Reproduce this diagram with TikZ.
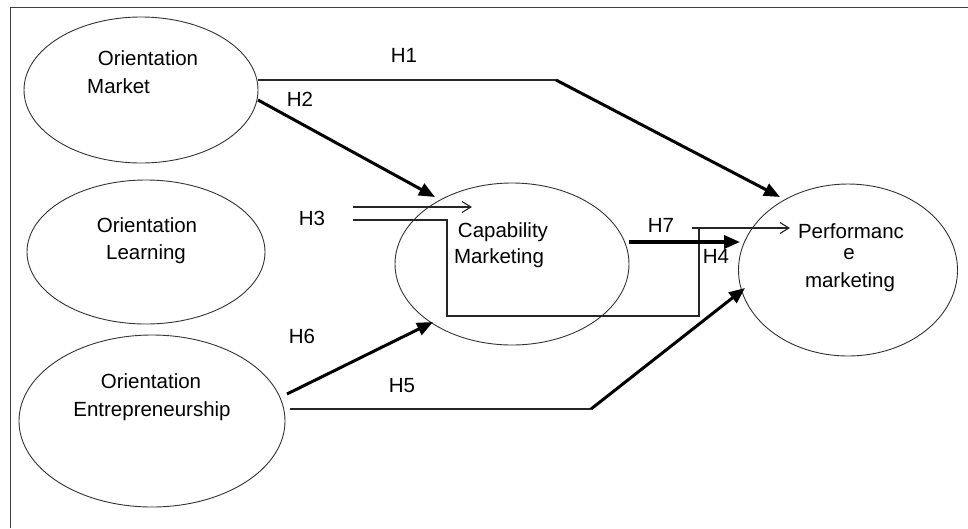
\documentclass[tikz,border=0pt]{standalone}
\usepackage{fontspec}
\setmainfont{Liberation Sans}
\usetikzlibrary{shapes.geometric,arrows.meta}
\begin{document}
\begin{tikzpicture}[x=1pt,y=-1pt,
  construct/.style={draw=black!80, line width=0.9pt, ellipse, inner sep=0pt},
  lbl/.style={anchor=base, inner sep=0pt, font=\fontsize{20.5}{24}\selectfont},
  thinline/.style={draw=black!85, line width=1.1pt},
  thickline/.style={draw=black, line width=3pt},
  bigtip/.style={-{Triangle[length=16pt,width=13pt]}},
  opentip/.style={-{Straight Barb[length=9pt,width=11pt,line width=1.1pt]}}]
\useasboundingbox (0,0) rectangle (968,528);
% frame
\draw[draw=black!75, line width=1pt] (10,528) -- (10,7) -- (968,7);
% constructs
\node[construct, minimum width=234pt, minimum height=146pt] (om) at (141,90) {};
\node[construct, minimum width=238pt, minimum height=144pt] (ol) at (146,252) {};
\node[construct, minimum width=266pt, minimum height=172pt] (oe) at (152,421) {};
\node[construct, minimum width=234pt, minimum height=162pt] (cm) at (512,264) {};
\node[construct, minimum width=219pt, minimum height=172pt] (pm) at (848,270) {};
% texts
\node[lbl] (omt1) at (148,65) {Orientation};
\node[lbl, anchor=base west] (omt2) at (87,93) {Market};
\node[lbl] (olt1) at (147,232) {Orientation};
\node[lbl] (olt2) at (146,259) {Learning};
\node[lbl] (oet1) at (151,388) {Orientation};
\node[lbl] (oet2) at (152,416) {Entrepreneurship};
\node[lbl] (cmt1) at (503,237) {Capability};
\node[lbl] (cmt2) at (499,263) {Marketing};
\node[lbl] (pmt1) at (851,238) {Performanc};
\node[lbl] (pmt2) at (849,259) {e};
\node[lbl] (pmt3) at (850,287) {marketing};
% hypothesis labels
\node[lbl] (h1) at (404,62) {H1};
\node[lbl] (h2) at (300,106) {H2};
\node[lbl] (h3) at (312,225) {H3};
\node[lbl] (h7) at (661,232) {H7};
\node[lbl] (h4) at (716,263) {H4};
\node[lbl] (h6) at (302,343) {H6};
\node[lbl] (h5) at (402,392) {H5};
% connector points
\coordinate (h1s) at (258,80);
\coordinate (h1b) at (556,80);
\coordinate (h1e) at (780,197);
\coordinate (h2s) at (258,100);
\coordinate (h2e) at (435,197);
\coordinate (h3us) at (353,207);
\coordinate (h3ue) at (472,207);
\coordinate (h3ls) at (353,220);
\coordinate (h3a) at (447,220);
\coordinate (h3b) at (447,316);
\coordinate (h3c) at (699,316);
\coordinate (h3d) at (699,228);
\coordinate (h4s) at (692,228);
\coordinate (h4e) at (790,228);
\coordinate (h7s) at (629,242);
\coordinate (h7e) at (740,242);
\coordinate (h6s) at (287,394);
\coordinate (h6e) at (433,322);
\coordinate (h5s) at (290,409);
\coordinate (h5b) at (591,409);
\coordinate (h5e) at (745,288);
% connectors
\draw[thinline] (h1s) -- (h1b);
\draw[thickline, bigtip] (h1b) -- (h1e);
\draw[thickline, bigtip] (h2s) -- (h2e);
\draw[thinline, opentip] (h3us) -- (h3ue);
\draw[thinline] (h3ls) -- (h3a) -- (h3b) -- (h3c) -- (h3d);
\draw[thinline, opentip] (h4s) -- (h4e);
\draw[thickline, line width=3.5pt, bigtip] (h7s) -- (h7e);
\draw[thickline, bigtip] (h6s) -- (h6e);
\draw[thinline] (h5s) -- (h5b);
\draw[thickline, bigtip] (h5b) -- (h5e);
\end{tikzpicture}
\end{document}
